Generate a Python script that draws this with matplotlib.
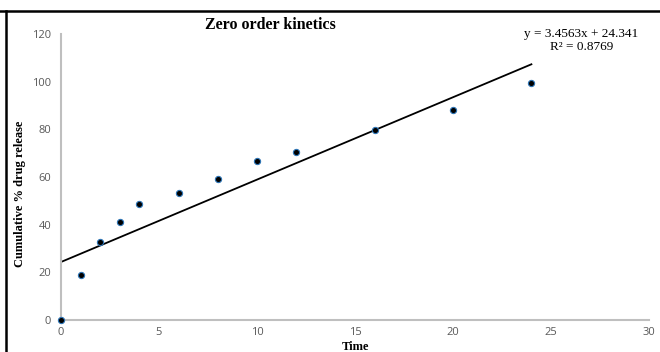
import matplotlib
matplotlib.use("Agg")
import matplotlib.pyplot as plt
from matplotlib.lines import Line2D

time = [0, 1, 2, 3, 4, 6, 8, 10, 12, 16, 20, 24]
release = [0, 18.9, 32.9, 41.3, 48.8, 53.3, 59.3, 66.7, 70.6, 79.7, 88.1, 99.6]
slope = 3.4563
intercept = 24.341
r2 = 0.8769
x_ticks = [0, 5, 10, 15, 20, 25, 30]
y_ticks = [0, 20, 40, 60, 80, 100, 120]

W, H = 660, 352
fig = plt.figure(figsize=(W / 100, H / 100), dpi=100)
ax = fig.add_axes([61 / W, 1 - 320 / H, (649 - 61) / W, (320 - 34) / H])

ax.scatter(time, release, s=20, facecolor="black", edgecolor="#2e75b6",
           linewidth=0.8, zorder=3, clip_on=False)
fit_x = [time[0], time[-1]]
fit_y = [slope * v + intercept for v in fit_x]
ax.plot(fit_x, fit_y, color="black", lw=1.3, zorder=2)

ax.set_xlim(0, 30)
ax.set_ylim(0, 120)
ax.set_xticks(x_ticks)
ax.set_yticks(y_ticks)
for s in ["top", "right"]:
    ax.spines[s].set_visible(False)
for s in ["left", "bottom"]:
    ax.spines[s].set_color("#bfbfbf")
    ax.spines[s].set_linewidth(1.5)
ax.tick_params(axis="y", length=0, labelsize=8, colors="#595959", pad=7)
ax.tick_params(axis="x", length=0, labelsize=8, colors="#595959", pad=5)
for lab in ax.get_xticklabels() + ax.get_yticklabels():
    lab.set_family("Open Sans")

fig.text(270 / W, 1 - 25 / H, "Zero order kinetics", family="Liberation Serif",
         fontweight="bold", fontsize=11.5, ha="center", va="center")
fig.text(355 / W, 1 - 347.5 / H, "Time", family="Liberation Serif",
         fontweight="bold", fontsize=9, ha="center", va="center")
fig.text(20 / W, 1 - 194 / H, "Cumulative % drug release", family="Liberation Serif",
         fontweight="bold", fontsize=9, ha="center", va="center", rotation=90)
fig.text(581 / W, 1 - 34 / H, f"y = {slope}x + {intercept}", family="Liberation Serif",
         fontsize=9.5, ha="center", va="center")
fig.text(582 / W, 1 - 47 / H, f"R² = {r2}", family="Liberation Serif",
         fontsize=9.5, ha="center", va="center")

fig.add_artist(Line2D([0, 1], [1 - 10.5 / H, 1 - 10.5 / H], color="black", lw=1.8,
                      transform=fig.transFigure))
fig.add_artist(Line2D([6.5 / W, 6.5 / W], [0, 1 - 10.5 / H], color="black", lw=1.8,
                      transform=fig.transFigure))

fig.savefig("out.png", dpi=100)
